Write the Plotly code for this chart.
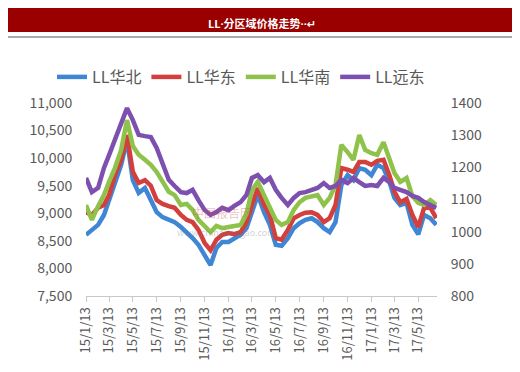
import plotly.graph_objects as go

dates = [
    "2015-01-13", "2015-01-28", "2015-02-13", "2015-02-28", "2015-03-13", "2015-03-28",
    "2015-04-13", "2015-04-28", "2015-05-13", "2015-05-28", "2015-06-13", "2015-06-28",
    "2015-07-13", "2015-07-28", "2015-08-13", "2015-08-28", "2015-09-13", "2015-09-28",
    "2015-10-13", "2015-10-28", "2015-11-13", "2015-11-28", "2015-12-13", "2015-12-28",
    "2016-01-13", "2016-01-28", "2016-02-13", "2016-02-28", "2016-03-13", "2016-03-28",
    "2016-04-13", "2016-04-28", "2016-05-13", "2016-05-28", "2016-06-13", "2016-06-28",
    "2016-07-13", "2016-07-28", "2016-08-13", "2016-08-28", "2016-09-13", "2016-09-28",
    "2016-10-13", "2016-10-28", "2016-11-13", "2016-11-28", "2016-12-13", "2016-12-28",
    "2017-01-13", "2017-01-28", "2017-02-13", "2017-02-28", "2017-03-13", "2017-03-28",
    "2017-04-13", "2017-04-28", "2017-05-13", "2017-05-28", "2017-06-13", "2017-06-28",
]

ll_huabei = [
    8610, 8700, 8790, 8970, 9240, 9570, 9880, 10330, 9600, 9370, 9460, 9240,
    9020, 8930, 8880, 8840, 8750, 8660, 8550, 8430, 8240, 8060, 8370, 8480,
    8480, 8550, 8610, 8730, 9020, 9330, 9020, 8790, 8430, 8410, 8550, 8730,
    8820, 8880, 8910, 8840, 8730, 8660, 8840, 9510, 9690, 9600, 9820, 9790,
    9690, 9880, 9820, 9570, 9280, 9150, 9190, 8790, 8620, 8970, 8910, 8790,
]
ll_huadong = [
    9020, 8970, 9100, 9150, 9330, 9690, 9970, 10420, 9750, 9550, 9600, 9500,
    9240, 9170, 9130, 9100, 8970, 8880, 8840, 8700, 8460, 8330, 8520, 8610,
    8640, 8620, 8660, 8840, 9150, 9460, 9150, 8970, 8550, 8520, 8700, 8910,
    8970, 9010, 9020, 8970, 8840, 8910, 9150, 9820, 9790, 9750, 9930, 9930,
    9880, 9950, 9970, 9690, 9390, 9200, 9260, 8970, 8750, 9100, 9100, 8910,
]
ll_huanan = [
    9150, 8880, 9130, 9330, 9570, 9820, 10150, 10690, 10220, 10060, 9970, 9880,
    9750, 9570, 9390, 9330, 9150, 9170, 9060, 8880, 8770, 8660, 8770, 8730,
    8750, 8770, 8790, 8990, 9420, 9570, 9330, 9100, 8880, 8790, 8840, 9060,
    9200, 9280, 9300, 9330, 9150, 9280, 9510, 10240, 10110, 9970, 10420, 10150,
    10090, 10060, 10290, 10000, 9730, 9570, 9640, 9310, 9190, 9150, 9240, 9150,
]
ll_yuandong = [
    1167, 1123, 1136, 1198, 1238, 1285, 1341, 1384, 1347, 1301, 1297, 1294,
    1260, 1207, 1161, 1142, 1123, 1120, 1130, 1098, 1067, 1052, 1061, 1074,
    1067, 1080, 1092, 1114, 1167, 1176, 1154, 1167, 1130, 1105, 1083, 1105,
    1120, 1123, 1130, 1136, 1151, 1136, 1142, 1161, 1151, 1167, 1154, 1142,
    1145, 1142, 1167, 1154, 1136, 1130, 1123, 1111, 1105, 1092, 1083, 1074,
]

tick_dates = [
    "2015-01-13", "2015-03-13", "2015-05-13", "2015-07-13", "2015-09-13",
    "2015-11-13", "2016-01-13", "2016-03-13", "2016-05-13", "2016-07-13",
    "2016-09-13", "2016-11-13", "2017-01-13", "2017-03-13", "2017-05-13",
]
tick_labels = [
    "15/1/13", "15/3/13", "15/5/13", "15/7/13", "15/9/13",
    "15/11/13", "16/1/13", "16/3/13", "16/5/13", "16/7/13",
    "16/9/13", "16/11/13", "17/1/13", "17/3/13", "17/5/13",
]

series_names = ["LL华北", "LL华东", "LL华南", "LL远东"]
colors = ["#3f86d4", "#d23f3c", "#8fc24a", "#7d4fae"]

fig = go.Figure()
for name, vals, col, ax in zip(series_names,
                               [ll_huabei, ll_huadong, ll_huanan, ll_yuandong],
                               colors, ["y", "y", "y", "y2"]):
    fig.add_trace(go.Scatter(x=dates, y=vals, name=name, mode="lines",
                             line=dict(color=col, width=4.5),
                             yaxis=ax))

font_family = "Noto Sans CJK SC, Noto Sans, sans-serif"

fig.update_layout(
    width=520, height=372,
    margin=dict(l=78, r=91, t=95, b=84),
    paper_bgcolor="white", plot_bgcolor="white",
    showlegend=True,
    legend=dict(orientation="h", x=(52-86)/351, xanchor="left",
                y=(296-77)/193, yanchor="middle",
                font=dict(family=font_family, size=16, color="#595959"),
                itemwidth=30, tracegroupgap=0, bgcolor="rgba(0,0,0,0)"),
    xaxis=dict(type="date", range=["2015-01-13", "2017-06-30"],
               tickvals=tick_dates, ticktext=tick_labels, tickangle=-90,
               showline=True, linecolor="#c8c8c8", linewidth=1,
               ticks="outside", ticklen=5, tickcolor="#c8c8c8",
               showgrid=False, zeroline=False,
               tickfont=dict(family=font_family, size=13, color="#595959")),
    yaxis=dict(range=[7500, 11000], dtick=500, tickformat=",d",
               showgrid=False, zeroline=False, showline=False,
               ticks="outside", ticklen=10, tickcolor="rgba(0,0,0,0)",
               tickfont=dict(family=font_family, size=14, color="#595959")),
    yaxis2=dict(range=[800, 1400], dtick=100, overlaying="y", side="right",
                showgrid=False, zeroline=False, showline=False,
                ticks="outside", ticklen=10, tickcolor="rgba(0,0,0,0)",
                tickfont=dict(family=font_family, size=14, color="#595959")),
    shapes=[
        dict(type="rect", xref="paper", yref="paper",
             x0=-84/351, x1=432/351, y0=(296-32)/193, y1=(296+8)/193,
             fillcolor="#9a0000", line=dict(width=0), layer="below"),
        dict(type="line", xref="paper", yref="paper",
             x0=-86/351, x1=434/351, y0=(296-37)/193, y1=(296-37)/193,
             line=dict(color="#555555", width=1)),
    ],
    annotations=[
        dict(text="<b>LL·分区域价格走势··↵</b>", xref="paper", yref="paper",
             x=(262-86)/351, y=(296-14)/193, showarrow=False,
             font=dict(family="Open Sans, Noto Sans CJK SC, DejaVu Sans", size=11,
                       color="white")),
        dict(text="中国报告网", xref="paper", yref="paper",
             x=(222-86)/351, y=(296-212)/193, showarrow=False,
             font=dict(family=font_family, size=12, color="rgba(200,80,80,0.35)")),
        dict(text="www.chinabaogao.com", xref="paper", yref="paper",
             x=(226-86)/351, y=(296-241)/193, showarrow=False,
             font=dict(family=font_family, size=9, color="rgba(120,120,120,0.35)")),
    ],
)

fig.write_html("out.html")
